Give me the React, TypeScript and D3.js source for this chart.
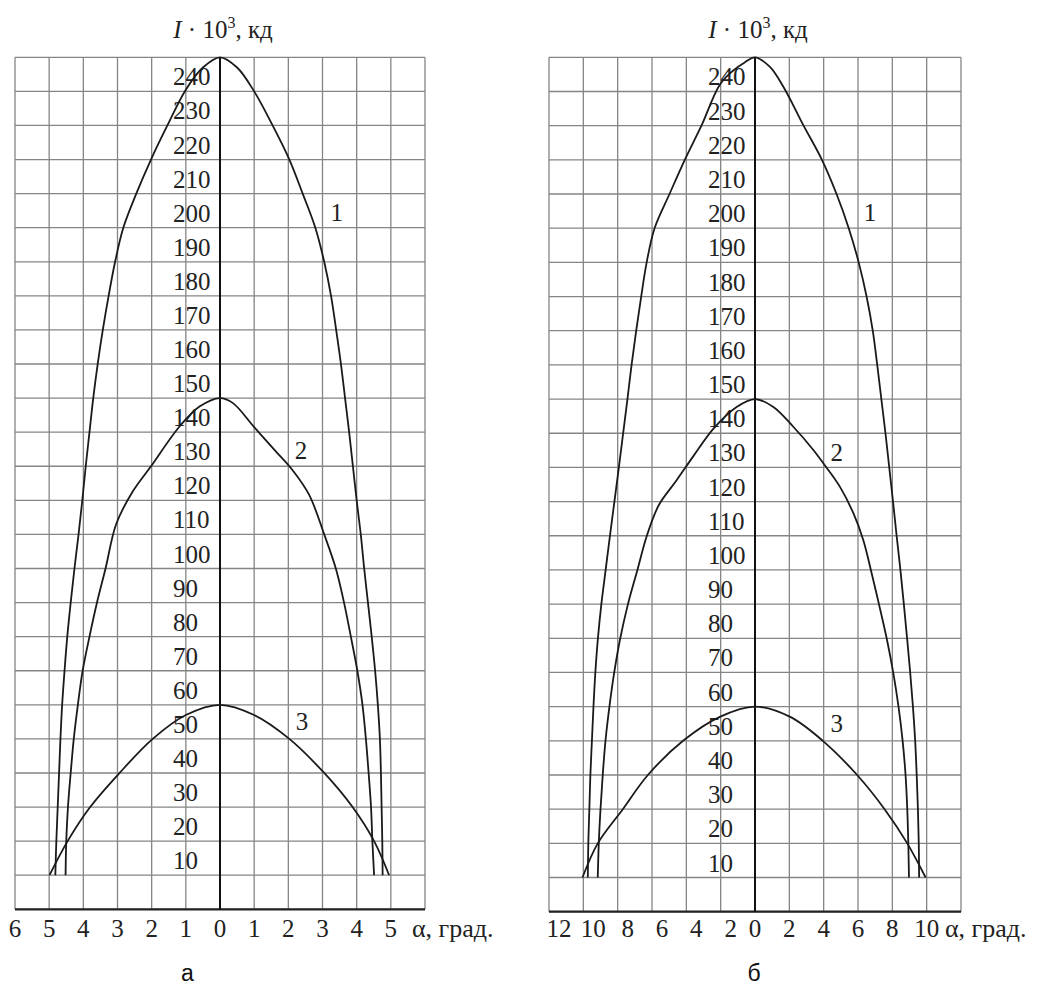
import React from 'react';
import * as d3 from 'd3';

type Pt = [number, number]; // [alpha, degrees; intensity, 10^3 cd]

const W = 1040;
const H = 988;

// Intensity gridlines / labels (I · 10^3, cd)
const intensityGrid: number[] = [0, 10, 20, 30, 40, 50, 60, 70, 80, 90, 100, 110, 120, 130, 140, 150, 160, 170, 180, 190, 200, 210, 220, 230, 240, 250];
const intensityLabels: number[] = [10, 20, 30, 40, 50, 60, 70, 80, 90, 100, 110, 120, 130, 140, 150, 160, 170, 180, 190, 200, 210, 220, 230, 240];

// Angle gridlines and tick labels
const alphaGridA: number[] = [-6, -5, -4, -3, -2, -1, 0, 1, 2, 3, 4, 5, 6];
const alphaTicksA: number[] = [-6, -5, -4, -3, -2, -1, 0, 1, 2, 3, 4, 5];
const alphaGridB: number[] = [-12, -10, -8, -6, -4, -2, 0, 2, 4, 6, 8, 10, 12];
const alphaTicksB: number[] = [-12, -10, -8, -6, -4, -2, 0, 2, 4, 6, 8, 10];

// Panel "а": luminous intensity curves 1, 2, 3
const curveA1: Pt[] = [
  [-4.82, 10], [-4.79, 20], [-4.75, 30], [-4.71, 40], [-4.67, 50], [-4.62, 60], [-4.55, 70],
  [-4.47, 80], [-4.37, 90], [-4.26, 100], [-4.14, 110], [-4.03, 120], [-3.93, 130], [-3.82, 140],
  [-3.71, 150], [-3.58, 160], [-3.43, 170], [-3.26, 180], [-3.07, 190], [-2.83, 200], [-2.45, 210],
  [-2.02, 220], [-1.54, 230], [-1.0, 240.5], [-0.5, 247], [0, 250],
  [0.5, 247], [1.0, 240], [1.54, 230], [2.03, 220], [2.42, 210], [2.79, 200], [3.05, 190],
  [3.25, 180], [3.4, 170], [3.54, 160], [3.66, 150], [3.78, 140], [3.89, 130], [4.0, 120],
  [4.12, 110], [4.22, 100], [4.33, 90], [4.44, 80], [4.54, 70], [4.62, 60], [4.68, 50],
  [4.71, 40], [4.73, 30], [4.75, 20], [4.76, 10],
];
const curveA2: Pt[] = [
  [-4.52, 10], [-4.5, 20], [-4.45, 30], [-4.37, 40], [-4.28, 50], [-4.16, 60], [-4.02, 70],
  [-3.82, 80], [-3.6, 90], [-3.35, 100], [-3.04, 113], [-2.56, 122.5], [-2.02, 130], [-1.19, 141.6],
  [-0.6, 147.5], [0, 150],
  [0.37, 148.6], [1.0, 141.5], [1.64, 134.3], [2.12, 128.9], [2.61, 121.6], [3.05, 110], [3.39, 100],
  [3.63, 90], [3.83, 80], [4.02, 70], [4.17, 60], [4.27, 50], [4.35, 40], [4.42, 30], [4.46, 20], [4.51, 10],
];
const curveA3: Pt[] = [
  [-4.99, 10], [-4.46, 20], [-3.8, 30], [-2.94, 40], [-1.97, 50], [-1.0, 57], [0, 60],
  [1.0, 57], [2.03, 50], [3.05, 40], [3.88, 30], [4.51, 20], [4.95, 10],
];

// Panel "б": luminous intensity curves 1, 2, 3
const curveB1: Pt[] = [
  [-9.74, 10], [-9.71, 20], [-9.65, 30], [-9.59, 40], [-9.5, 50], [-9.41, 60], [-9.3, 70],
  [-9.15, 80], [-8.95, 90], [-8.7, 100], [-8.45, 110], [-8.19, 120], [-7.93, 130], [-7.68, 140],
  [-7.43, 150], [-7.19, 160], [-6.92, 170], [-6.63, 180], [-6.31, 190], [-5.85, 200], [-4.98, 210],
  [-4.09, 220], [-3.12, 230], [-2.05, 242], [-1.3, 246], [-0.6, 248.5], [0, 250],
  [0.87, 247.2], [1.66, 241.3], [2.83, 230], [3.9, 220], [4.75, 210], [5.46, 200], [6.04, 190],
  [6.5, 180], [6.86, 170], [7.12, 160], [7.36, 150], [7.6, 140], [7.82, 130], [8.04, 120],
  [8.25, 110], [8.47, 100], [8.67, 90], [8.86, 80], [9.04, 70], [9.2, 60], [9.33, 50],
  [9.42, 40], [9.49, 30], [9.54, 20], [9.56, 10],
];
const curveB2: Pt[] = [
  [-9.16, 10], [-9.1, 20], [-9.0, 30], [-8.87, 40], [-8.71, 50], [-8.48, 60], [-8.2, 70],
  [-7.85, 80], [-7.4, 90], [-6.85, 100], [-6.3, 110], [-5.6, 119], [-4.6, 126], [-3.59, 133.3],
  [-2.43, 141.3], [-1.07, 147.7], [0, 150],
  [1.07, 147.7], [2.23, 141.9], [3.4, 135.1], [3.98, 131.2], [4.95, 124.3], [5.73, 116.6],
  [6.31, 108.7], [6.75, 100], [7.22, 90], [7.67, 80], [8.05, 70], [8.36, 60], [8.6, 50],
  [8.77, 40], [8.87, 30], [8.93, 20], [8.97, 10],
];
const curveB3: Pt[] = [
  [-10.05, 10], [-9.16, 20], [-7.7, 30], [-6.24, 40], [-4.19, 50], [-2.05, 57], [0, 60],
  [2.05, 57], [3.95, 50], [5.95, 40], [7.55, 30], [8.87, 20], [9.94, 10],
];

// Curve number labels: [alpha, intensity at baseline]
const curveLabelsA: { text: string; at: Pt }[] = [
  { text: '1', at: [3.42, 202] },
  { text: '2', at: [2.37, 132] },
  { text: '3', at: [2.4, 52.5] },
];
const curveLabelsB: { text: string; at: Pt }[] = [
  { text: '1', at: [6.7, 202] },
  { text: '2', at: [4.76, 132] },
  { text: '3', at: [4.76, 52.5] },
];

const SERIF = "'Liberation Serif', 'Times New Roman', serif";
const SANS = "'Liberation Sans', Arial, sans-serif";

interface PanelSpec {
  letter: string;
  xDomain: [number, number];
  xRange: [number, number];
  yRange: [number, number];
  grid: number[];
  ticks: number[];
  negNudge: number;
  unitDx: number;
  letterX: number;
  curves: Pt[][];
  labels: { text: string; at: Pt }[];
}

const panels: PanelSpec[] = [
  {
    letter: 'а', xDomain: [-6, 6], xRange: [15, 425], yRange: [909.3, 57.3],
    grid: alphaGridA, ticks: alphaTicksA, negNudge: 0, unitDx: -13, letterX: 187.5,
    curves: [curveA1, curveA2, curveA3], labels: curveLabelsA,
  },
  {
    letter: 'б', xDomain: [-12, 12], xRange: [549, 961], yRange: [911.7, 57.3],
    grid: alphaGridB, ticks: alphaTicksB, negNudge: 10, unitDx: -16, letterX: 754,
    curves: [curveB1, curveB2, curveB3], labels: curveLabelsB,
  },
];

function Panel({ p }: { p: PanelSpec }) {
  const x = d3.scaleLinear().domain(p.xDomain).range(p.xRange);
  const y = d3.scaleLinear().domain([0, 250]).range(p.yRange);
  const line = d3
    .line<Pt>()
    .x((d) => x(d[0]))
    .y((d) => y(d[1]))
    .curve(d3.curveCatmullRom.alpha(0.5));
  const [x0, x1] = p.xRange;
  const x00 = x(0);
  return (
    <g>
      {/* header */}
      <text x={x00 + 3} y={38} textAnchor="middle" fontFamily={SERIF} fontSize={25} fill="#222">
        <tspan fontStyle="italic">I</tspan>
        <tspan> · 10</tspan>
        <tspan dy={-10} fontSize={16}>3</tspan>
        <tspan dy={10}>, кд</tspan>
      </text>
      {/* grid */}
      <g stroke="#858585" strokeWidth={1.3} fill="none">
        {intensityGrid.map((v) => (
          <line key={'h' + v} x1={x0} x2={x1} y1={y(v)} y2={y(v)} />
        ))}
        {p.grid.map((v) => (
          <line key={'v' + v} x1={x(v)} x2={x(v)} y1={y(0)} y2={y(250)} />
        ))}
      </g>
      {/* axes */}
      <line x1={x0} x2={x1} y1={y(0)} y2={y(0)} stroke="#222" strokeWidth={2.2} />
      <line x1={x00} x2={x00} y1={y(0)} y2={y(250)} stroke="#111" strokeWidth={2} />
      {/* intensity labels */}
      <g fontFamily={SERIF} fontSize={25} fill="#222">
        {intensityLabels.map((v) => (
          <text key={'yl' + v} x={x00 - 47} y={y(v) - 6}>
            {v}
          </text>
        ))}
      </g>
      {/* curves */}
      <g fill="none" stroke="#1a1a1a" strokeWidth={1.8} strokeLinejoin="round">
        {p.curves.map((c, i) => (
          <path key={'c' + i} d={line(c) || ''} />
        ))}
      </g>
      {/* curve numbers */}
      <g fontFamily={SERIF} fontSize={25} fill="#222" textAnchor="middle">
        {p.labels.map((l) => (
          <text key={'n' + l.text} x={x(l.at[0])} y={y(l.at[1])}>
            {l.text}
          </text>
        ))}
      </g>
      {/* angle tick labels */}
      <g fontFamily={SERIF} fontSize={25} fill="#222" textAnchor="middle">
        {p.ticks.map((t) => (
          <text key={'xl' + t} x={x(t) + (t < 0 ? p.negNudge : 0)} y={936.5}>
            {Math.abs(t)}
          </text>
        ))}
        <text x={x1 + p.unitDx} y={936.5} textAnchor="start" fontSize={26}>
          α, град.
        </text>
      </g>
      {/* panel letter */}
      <text x={p.letterX} y={981} textAnchor="middle" fontFamily={SANS} fontSize={23} fill="#111">
        {p.letter}
      </text>
    </g>
  );
}

export default function App() {
  return (
    <svg
      width={W}
      height={H}
      viewBox={`0 0 ${W} ${H}`}
      style={{ position: 'absolute', left: 0, top: 0, background: '#fff' }}
    >
      <rect width={W} height={H} fill="#fff" />
      {panels.map((p) => (
        <Panel key={p.letter} p={p} />
      ))}
    </svg>
  );
}
